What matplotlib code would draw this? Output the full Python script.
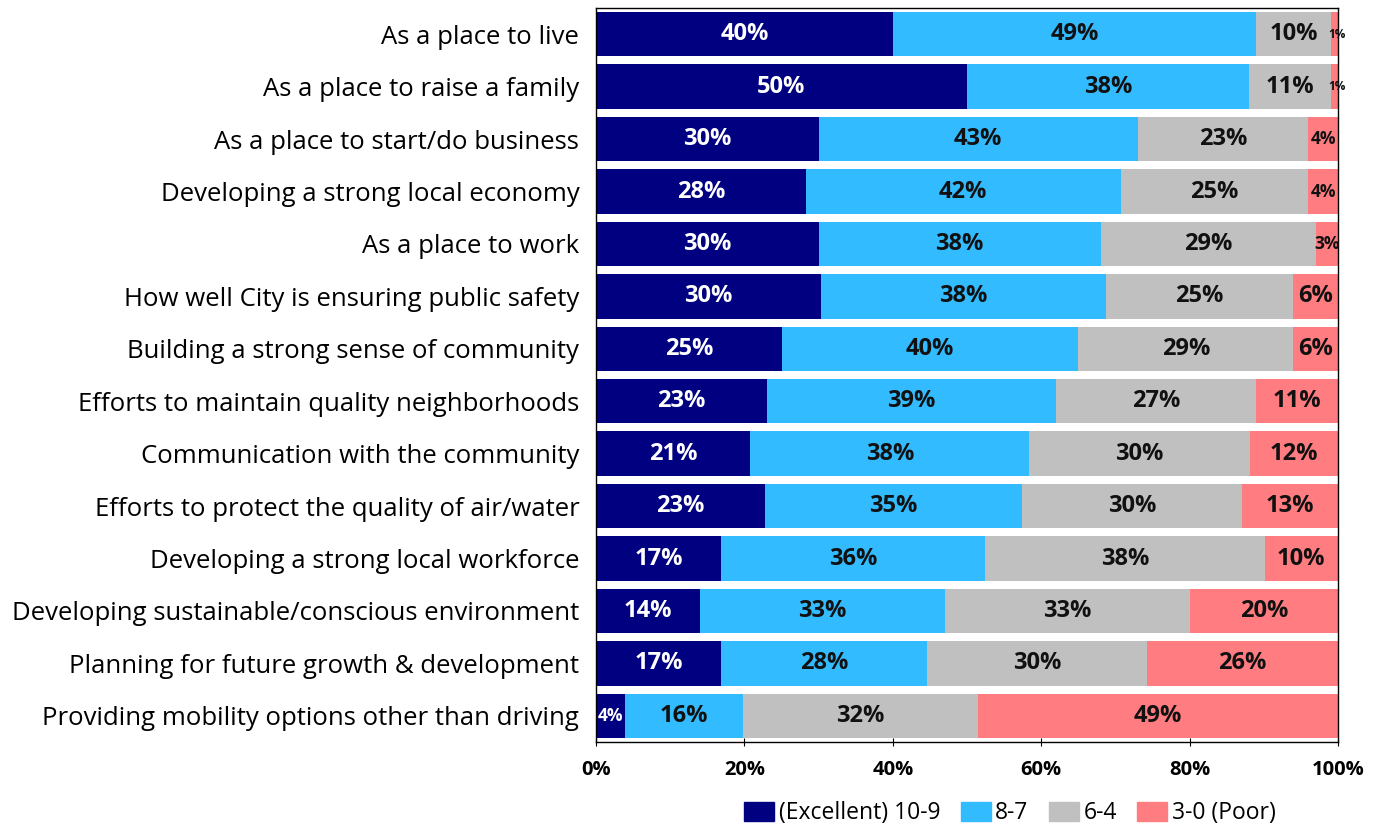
import numpy as np
import matplotlib.pyplot as plt
from matplotlib.patches import Patch

plt.rcParams['font.family'] = ['Open Sans', 'DejaVu Sans']

categories = [
    "As a place to live",
    "As a place to raise a family",
    "As a place to start/do business",
    "Developing a strong local economy",
    "As a place to work",
    "How well City is ensuring public safety",
    "Building a strong sense of community",
    "Efforts to maintain quality neighborhoods",
    "Communication with the community",
    "Efforts to protect the quality of air/water",
    "Developing a strong local workforce",
    "Developing sustainable/conscious environment",
    "Planning for future growth & development",
    "Providing mobility options other than driving",
]
excellent = [40, 50, 30, 28, 30, 30, 25, 23, 21, 23, 17, 14, 17, 4]
good = [49, 38, 43, 42, 38, 38, 40, 39, 38, 35, 36, 33, 28, 16]
fair = [10, 11, 23, 25, 29, 25, 29, 27, 30, 30, 38, 33, 30, 32]
poor = [1, 1, 4, 4, 3, 6, 6, 11, 12, 13, 10, 20, 26, 49]

series_names = ["(Excellent) 10-9", "8-7", "6-4", "3-0 (Poor)"]
colors = ["#000080", "#33BBFF", "#C0C0C0", "#FF7C80"]
text_colors = ["white", "#111111", "#111111", "#111111"]

data = np.array([excellent, good, fair, poor], dtype=float)
totals = data.sum(axis=0)
shares = data / totals * 100

fig = plt.figure(figsize=(13.74, 8.3), dpi=100)
ax = fig.add_axes([596 / 1374, 1 - 742 / 830, 742 / 1374, 734 / 830])

y = np.arange(len(categories))
left = np.zeros(len(categories))
for i in range(4):
    ax.barh(y, shares[i], left=left, height=0.85, color=colors[i])
    for j in range(len(categories)):
        v = data[i, j]
        cx = left[j] + shares[i, j] / 2
        if v <= 1:
            size = 8.5
            cx += 0.3
        elif v <= 4:
            size = 12.5
        else:
            size = 17
        ax.text(cx, y[j], f"{v:.0f}%", ha='center', va='center',
                fontsize=size, fontweight='bold', color=text_colors[i])
    left += shares[i]

ax.set_xlim(0, 100)
ax.set_ylim(len(categories) - 0.5, -0.5)
ax.set_yticks(y)
ax.set_yticklabels(categories, fontsize=18.5)
ax.tick_params(axis='y', length=0, pad=12)
ax.set_xticks([0, 20, 40, 60, 80, 100])
ax.set_xticklabels([f"{t}%" for t in [0, 20, 40, 60, 80, 100]], fontsize=14.5, fontweight='bold')
ax.tick_params(axis='x', direction='inout', length=6, pad=10)
for s in ax.spines.values():
    s.set_color('black')
    s.set_linewidth(1)

handles = [Patch(color=c, label=n) for c, n in zip(colors, series_names)]
fig.legend(handles=handles, loc='center', bbox_to_anchor=(1010 / 1374, 1 - 813 / 830), ncol=4,
           frameon=False, fontsize=16.5, handlelength=1.3, handleheight=0.9,
           handletextpad=0.2, columnspacing=0.9)

fig.savefig("out.png", dpi=100)
